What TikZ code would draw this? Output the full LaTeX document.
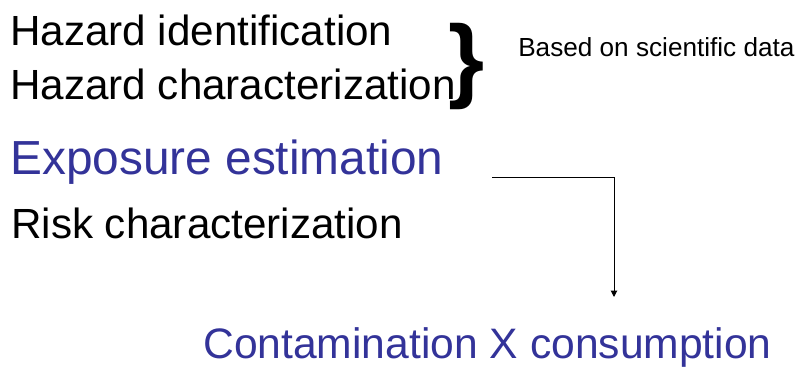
\documentclass[tikz,border=0pt]{standalone}
\usepackage{fontspec}
\setmainfont{Liberation Sans}
\usetikzlibrary{arrows.meta}
\definecolor{slideblue}{RGB}{51,51,153}

\begin{document}
\begin{tikzpicture}[x=0.025cm,y=-0.025cm,
    steptext/.style={anchor=base west,inner sep=0pt,font=\fontsize{30}{34}\selectfont},
    bluetext/.style={steptext,text=slideblue},
    flow/.style={line width=0.7pt,-{Triangle[length=0.16cm,width=0.16cm]}}]
    \useasboundingbox (0,0) rectangle (802,367);

    \node[steptext] (hazid) at (10,46) {Hazard identification};
    \node[steptext] (hazchar) at (10,100) {Hazard characterization};
    \node[bluetext,font=\fontsize{34}{38}\selectfont] (expo) at (10,175) {Exposure estimation};
    \node[steptext] (risk) at (11,238) {Risk characterization};

    \node[inner sep=0pt,font=\fontsize{66}{66}\selectfont\bfseries] (brace) at (467,67) {\}};
    \node[anchor=base west,inner sep=0pt,font=\fontsize{18.6}{22}\selectfont] (based) at (518,57) {Based on scientific data};

    \node[bluetext,font=\fontsize{30.3}{34}\selectfont] (contam) at (203,358) {Contamination X consumption};

    \coordinate (src) at (492,177);
    \coordinate (dst) at (614,297);
    \draw[flow] (src) -| (dst);
\end{tikzpicture}
\end{document}
